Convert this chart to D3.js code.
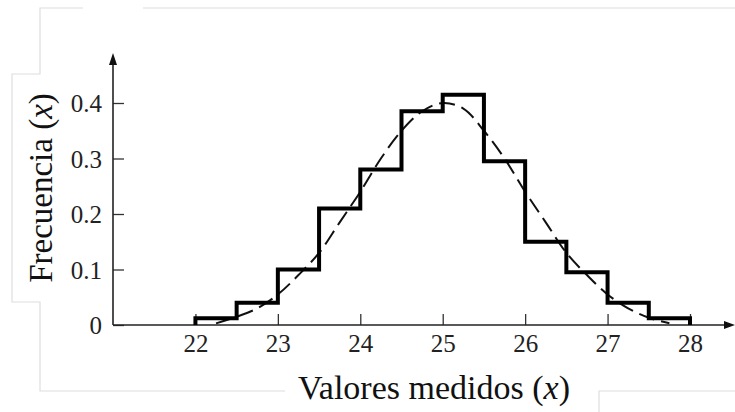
<!DOCTYPE html>
<html>
<head>
<meta charset="utf-8">
<script src="https://cdn.jsdelivr.net/npm/d3@7"></script>
<style>
  body { margin: 0; background: #fff; }
  svg { display: block; }
</style>
</head>
<body>
<div class="grafico"></div>
<script>
var ancho = 735;
var alto = 412;

// histograma: inicio de cada clase (ancho 0.5) y frecuencia
var clases = [22, 22.5, 23, 23.5, 24, 24.5, 25, 25.5, 26, 26.5, 27, 27.5];
var frecuencias = [0.012, 0.04, 0.10, 0.21, 0.28, 0.385, 0.415, 0.295, 0.15, 0.095, 0.04, 0.012];

// curva discontinua
var curvaX = [22.25, 22.5, 22.75, 23, 23.25, 23.5, 23.75, 24, 24.25, 24.5, 24.75, 25, 25.25, 25.5, 25.75, 26, 26.25, 26.5, 26.75, 27, 27.25, 27.5, 27.75];
var curvaY = [0.003, 0.015, 0.03, 0.055, 0.09, 0.13, 0.185, 0.24, 0.30, 0.35, 0.385, 0.40, 0.39, 0.35, 0.30, 0.24, 0.185, 0.13, 0.09, 0.055, 0.03, 0.013, 0.003];

var ticksX = [22, 23, 24, 25, 26, 27, 28];
var ticksY = [0, 0.1, 0.2, 0.3, 0.4];

var fuente = '"Liberation Serif", "Times New Roman", serif';

var contenedor = d3.select('.grafico')
  .append('svg')
  .attr('width', ancho)
  .attr('height', alto);

// marcos grises tenues
var gris = '#dedede';
var marcos = [
  [[83, 8], [40, 8], [40, 74], [12, 74], [12, 302], [40, 302], [40, 391], [285, 391]],
  [[143, 8], [735, 8]],
  [[599, 412], [599, 391], [735, 391]]
];
marcos.forEach(function (m) {
  contenedor.append('path')
    .attr('d', d3.line()(m))
    .attr('fill', 'none')
    .attr('stroke', gris)
    .attr('stroke-width', 1.2);
});

var xScale = d3.scaleLinear().domain([21, 28]).range([113, 690]);
var yScale = d3.scaleLinear().domain([0, 0.4]).range([325, 103]);

// ejes
var xAxis = d3.axisBottom(xScale)
  .tickValues(ticksX)
  .tickFormat(d3.format('d'))
  .tickSizeInner(-11)
  .tickSizeOuter(0)
  .tickPadding(9);

var yAxis = d3.axisLeft(yScale)
  .tickValues(ticksY)
  .tickFormat(function (d) { return d === 0 ? '0' : d3.format('.1f')(d); })
  .tickSizeInner(-11)
  .tickSizeOuter(0)
  .tickPadding(11);

var gx = contenedor.append('g')
  .attr('transform', 'translate(0,' + yScale(0) + ')')
  .call(xAxis);
gx.select('.domain').remove();
gx.selectAll('.tick line').attr('stroke', '#333').attr('stroke-width', 1.3);

var gy = contenedor.append('g')
  .attr('transform', 'translate(' + xScale(21) + ',0)')
  .call(yAxis);
gy.select('.domain').remove();
gy.selectAll('.tick line').attr('stroke', '#333').attr('stroke-width', 1.3);
gy.selectAll('.tick text').attr('dy', '0.35em');

contenedor.selectAll('.tick text')
  .style('font-family', fuente)
  .style('font-size', '25px')
  .attr('fill', '#222');

// lineas de los ejes con flecha
contenedor.append('line')
  .attr('x1', xScale(21)).attr('y1', yScale(0))
  .attr('x2', 728).attr('y2', yScale(0))
  .attr('stroke', '#222').attr('stroke-width', 1.6);
contenedor.append('path')
  .attr('d', 'M735,' + yScale(0) + 'L724,' + (yScale(0) - 4) + 'L724,' + (yScale(0) + 4) + 'Z')
  .attr('fill', '#111');

contenedor.append('line')
  .attr('x1', xScale(21)).attr('y1', yScale(0))
  .attr('x2', xScale(21)).attr('y2', 60)
  .attr('stroke', '#222').attr('stroke-width', 1.6);
contenedor.append('path')
  .attr('d', 'M' + xScale(21) + ',53L' + (xScale(21) - 4) + ',65L' + (xScale(21) + 4) + ',65Z')
  .attr('fill', '#111');

// curva discontinua
var puntosCurva = curvaX.map(function (x, i) { return [x, curvaY[i]]; });
contenedor.append('path')
  .datum(puntosCurva)
  .attr('d', d3.line()
    .x(function (d) { return xScale(d[0]); })
    .y(function (d) { return yScale(d[1]); })
    .curve(d3.curveCatmullRom))
  .attr('fill', 'none')
  .attr('stroke', '#111')
  .attr('stroke-width', 2)
  .attr('stroke-dasharray', '16,7');

// histograma en escalera
var puntosHist = [[clases[0], 0]];
clases.forEach(function (c, i) { puntosHist.push([c, frecuencias[i]]); });
puntosHist.push([clases[clases.length - 1] + 0.5, frecuencias[frecuencias.length - 1]]);
puntosHist.push([clases[clases.length - 1] + 0.5, 0]);

contenedor.append('path')
  .datum(puntosHist)
  .attr('d', d3.line()
    .x(function (d) { return xScale(d[0]); })
    .y(function (d) { return yScale(d[1]); })
    .curve(d3.curveStepAfter))
  .attr('fill', 'none')
  .attr('stroke', '#000')
  .attr('stroke-width', 4)
  .attr('stroke-linejoin', 'miter');

// titulos de ejes
var tituloY = contenedor.append('text')
  .attr('transform', 'translate(52,188) rotate(-90)')
  .attr('text-anchor', 'middle')
  .style('font-family', fuente)
  .style('font-size', '33px')
  .attr('fill', '#111');
tituloY.append('tspan').text('Frecuencia (');
tituloY.append('tspan').style('font-style', 'italic').text('x');
tituloY.append('tspan').text(')');

var tituloX = contenedor.append('text')
  .attr('x', 434)
  .attr('y', 399)
  .attr('text-anchor', 'middle')
  .style('font-family', fuente)
  .style('font-size', '34px')
  .attr('fill', '#111');
tituloX.append('tspan').text('Valores medidos (');
tituloX.append('tspan').style('font-style', 'italic').text('x');
tituloX.append('tspan').text(')');
</script>
</body>
</html>
